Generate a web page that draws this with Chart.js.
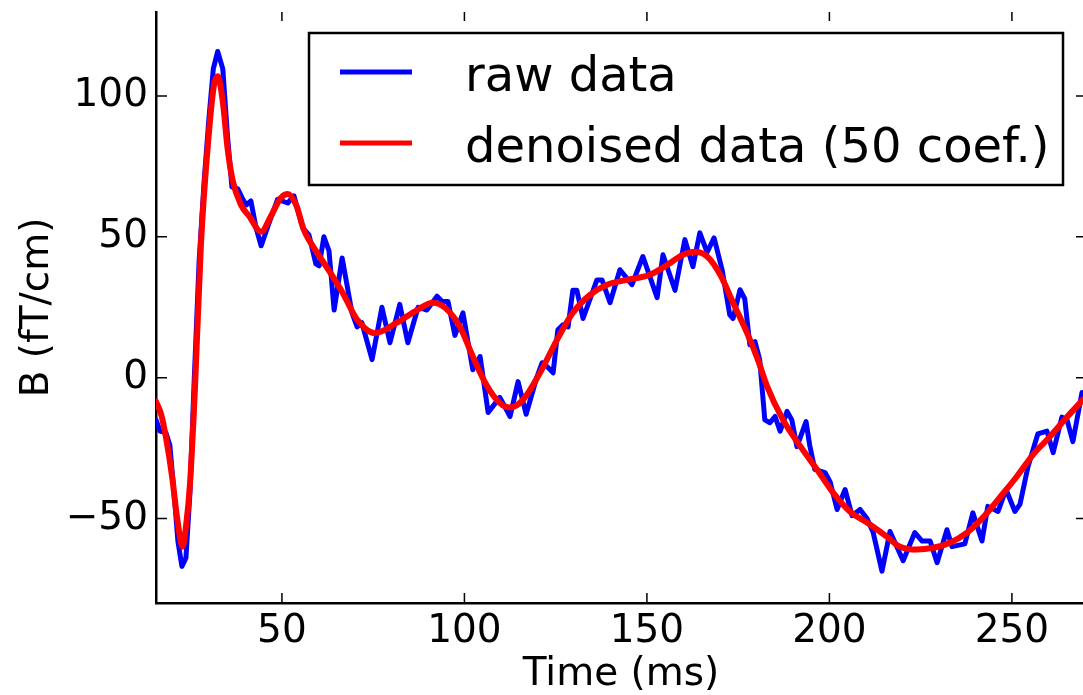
<!DOCTYPE html>
<html>
<head>
<meta charset="utf-8">
<script src="https://cdn.jsdelivr.net/npm/chart.js@4.4.1/dist/chart.umd.min.js"></script>
<style>
  html, body { margin: 0; padding: 0; background: #fff; overflow: hidden; }
  #wrap { position: relative; width: 1090px; height: 695px; }
</style>
</head>
<body>
<div id="wrap"><canvas id="meg"></canvas></div>
<script>
// values (time in ms, field in fT/cm)
var rawTime = [
  15.5, 16.6, 18.2, 19.3, 20.7, 21.5, 22.6, 23.7, 24.8, 25.9,
  27.3, 28.7, 30.0, 31.2, 32.4, 33.8, 35.1, 36.3, 37.9, 39.1,
  40.2, 41.5, 42.9, 44.3, 46.5, 48.8, 51.6, 53.3, 55.7, 57.4,
  59.3, 60.2, 61.5, 62.9, 64.3, 66.5, 69.2, 70.6, 71.9, 74.7,
  77.4, 79.6, 82.3, 84.5, 87.3, 89.7, 92.5, 93.9, 95.5, 97.4,
  99.6, 102.3, 104.3, 106.5, 109.7, 112.5, 114.7, 116.9, 119.9, 121.3,
  122.6, 124.3, 125.6, 127.0, 128.4, 129.7, 130.8, 132.5, 136.3, 137.7,
  139.9, 142.6, 145.9, 148.9, 152.8, 154.4, 157.7, 160.4, 162.6, 164.5,
  166.5, 168.4, 170.6, 172.7, 173.6, 175.5, 176.8, 178.2, 179.6, 180.9,
  182.3, 183.7, 185.1, 186.5, 188.4, 189.7, 191.1, 193.6, 194.6, 196.0,
  198.8, 200.2, 202.1, 204.3, 206.2, 208.4, 210.3, 212.0, 214.4, 216.6,
  220.2, 223.4, 225.4, 227.6, 229.5, 232.2, 233.6, 237.1, 239.3, 241.8,
  243.4, 246.2, 248.4, 250.8, 252.2, 254.4, 257.1, 259.6, 261.3, 263.7,
  265.1, 266.7, 269.2
];
var rawB = [
  -15, -19, -19.5, -24, -45, -58, -67, -64, -41, -3,
  41, 70, 92, 109.6, 115.8, 109.6, 85.5, 67.7, 67, 63.8,
  61.3, 62.7, 53.2, 46.8, 55, 63.3, 62, 64.5, 53.2, 50.7,
  40.4, 39.7, 50, 45, 24, 42.5, 23, 18, 19.5, 6.4,
  25, 12.4, 26, 12.4, 25, 24, 28.9, 27, 27, 15,
  23, 2.8, 7.5, -12.4, -7, -13.8, -1.4, -13, 0.4, 5.3,
  4, 1.7, 17, 18.8, 18, 31, 31, 21, 34.7, 34.7,
  26.6, 38.3, 33, 43, 28.4, 43.6, 31, 49, 39.4, 51.4,
  44.5, 49.6, 38.3, 22.3, 21, 31.2, 28, 11.7, 12.8, 6.4,
  -15, -16, -13.8, -19, -12, -15, -24.5, -15.6, -24, -32.6,
  -33.7, -37, -46.8, -39.7, -49, -46.8, -50, -55, -68.7, -54.6,
  -65, -55, -58, -58, -65.7, -54, -60, -59, -48, -58,
  -45.7, -47.5, -39.7, -47.5, -45, -31.6, -20, -19, -26.6, -14,
  -15, -22.7, -5.3
];
var denoisedTime = [
  15.5, 16.9, 18.2, 19.9, 21.3, 22.8, 23.7, 24.8, 26.2, 27.8,
  29.9, 31.4, 32.4, 33.8, 35.1, 36.5, 38.8, 41.0, 44.3, 47.0,
  49.7, 51.6, 53.9, 56.0, 59.3, 62.9, 66.7, 70.6, 75.5, 81.5,
  87.0, 91.4, 94.7, 98.8, 102.3, 106.2, 109.7, 112.5, 116.1, 120.7,
  125.4, 129.7, 134.4, 139.1, 144.5, 150.8, 155.5, 159.9, 163.2, 166.5,
  170.1, 173.6, 177.4, 180.4, 182.9, 187.3, 192.1, 196.6, 201.0, 205.6,
  210.3, 215.8, 219.3, 224.0, 228.4, 233.0, 237.7, 242.1, 246.7, 251.4,
  255.8, 260.4, 265.1, 269.5
];
var denoisedB = [
  -8.5, -13, -21, -35, -50, -60, -53, -38, -3, 47,
  85.5, 104, 107, 98, 81.5, 70, 61.3, 57.4, 51.8, 57.4,
  63.8, 65.2, 61.3, 52.5, 45, 38, 30, 20.6, 15.8, 19.5,
  24, 26.6, 24.8, 18, 7.5, -3, -9, -10.6, -7.8, 1.7,
  13.5, 23, 29.4, 33, 34.7, 36.5, 40, 43.6, 44.7, 43,
  36.5, 26.6, 16, 6.4, -3, -15, -24.5, -32.6, -40.8, -47.5,
  -51.4, -56.5, -60, -61, -60.4, -58.6, -55, -49.6, -42.5, -35,
  -27.3, -21, -14, -7.8
];
var xTicks = [50, 100, 150, 200, 250];
var yTicks = [-50, 0, 50, 100];

var FONT = "'DejaVu Sans', sans-serif";

function toPoints(xs, ys) {
  return xs.map(function (x, i) { return { x: x, y: ys[i] }; });
}

// inward tick marks on all four sides (matplotlib look)
var insideTicks = {
  id: "insideTicks",
  afterDatasetsDraw: function (chart) {
    var ctx = chart.ctx, a = chart.chartArea;
    var sx = chart.scales.x, sy = chart.scales.y;
    ctx.save();
    ctx.strokeStyle = "#000";
    ctx.lineWidth = 1.5;
    ctx.beginPath();
    xTicks.forEach(function (v) {
      var px = sx.getPixelForValue(v);
      ctx.moveTo(px, a.bottom); ctx.lineTo(px, a.bottom - 10);
      ctx.moveTo(px, a.top); ctx.lineTo(px, a.top + 9);
    });
    yTicks.forEach(function (v) {
      var py = sy.getPixelForValue(v);
      ctx.moveTo(a.left, py); ctx.lineTo(a.left + 11, py);
      ctx.moveTo(a.right, py); ctx.lineTo(a.right - 10, py);
    });
    ctx.stroke();
    ctx.restore();
  }
};

// framed legend in the upper part of the plot
var boxLegend = {
  id: "boxLegend",
  afterDraw: function (chart) {
    var ctx = chart.ctx;
    var left = 309, top = 33, right = 1063, bottom = 185;
    ctx.save();
    ctx.fillStyle = "#fff";
    ctx.fillRect(left, top, right - left, bottom - top);
    ctx.strokeStyle = "#000";
    ctx.lineWidth = 2.5;
    ctx.strokeRect(left, top, right - left, bottom - top);
    ctx.font = "48px " + FONT;
    ctx.textBaseline = "alphabetic";
    ctx.textAlign = "left";
    var rows = [72, 143];
    chart.data.datasets.forEach(function (ds, i) {
      var y = rows[i];
      ctx.strokeStyle = ds.borderColor;
      ctx.lineWidth = 5;
      ctx.beginPath();
      ctx.moveTo(340, y);
      ctx.lineTo(412, y);
      ctx.stroke();
      ctx.fillStyle = "#000";
      ctx.fillText(ds.label, 465, y + 18.5);
    });
    ctx.restore();
  }
};

new Chart(document.getElementById("meg"), {
  type: "line",
  data: {
    datasets: [
      {
        label: "raw data",
        data: toPoints(rawTime, rawB),
        borderColor: "#0000ff",
        borderWidth: 5,
        pointRadius: 0,
        tension: 0,
        borderJoinStyle: "round",
        borderCapStyle: "round",
        order: 2
      },
      {
        label: "denoised data (50 coef.)",
        data: toPoints(denoisedTime, denoisedB),
        borderColor: "#ff0000",
        borderWidth: 6,
        pointRadius: 0,
        cubicInterpolationMode: "monotone",
        borderJoinStyle: "round",
        borderCapStyle: "round",
        order: 1
      }
    ]
  },
  options: {
    responsive: true,
    maintainAspectRatio: false,
    animation: false,
    layout: { padding: { left: 0, top: 12, right: 4, bottom: 0 } },
    plugins: {
      legend: { display: false },
      tooltip: { enabled: false }
    },
    scales: {
      x: {
        type: "linear",
        min: 15.5,
        max: 270.3,
        grid: { display: false, drawTicks: false },
        border: { display: true, color: "#000", width: 2.5 },
        ticks: { color: "#000", padding: 5, font: { family: FONT, size: 39 } },
        afterBuildTicks: function (s) {
          s.ticks = xTicks.map(function (v) { return { value: v }; });
        },
        afterFit: function (s) {
          s.height = 92;
          s.paddingLeft = 0;
          s.paddingRight = 0;
        },
        title: {
          display: true,
          text: "Time (ms)",
          color: "#000",
          font: { family: FONT, size: 39 },
          padding: { top: 0, bottom: -3 }
        }
      },
      y: {
        type: "linear",
        min: -80,
        max: 129.8,
        grid: { display: false, drawTicks: false },
        border: { display: true, color: "#000", width: 2.5 },
        ticks: {
          color: "#000",
          padding: 8,
          font: { family: FONT, size: 39 },
          callback: function (v) { return v < 0 ? "\u2212" + Math.abs(v) : "" + v; }
        },
        afterBuildTicks: function (s) {
          s.ticks = yTicks.map(function (v) { return { value: v }; });
        },
        afterFit: function (s) {
          s.width = 156;
          s.paddingTop = 0;
          s.paddingBottom = 0;
        },
        title: {
          display: true,
          text: "B (fT/cm)",
          color: "#000",
          font: { family: FONT, size: 39 },
          padding: { top: 14, bottom: 0 }
        }
      }
    }
  },
  plugins: [insideTicks, boxLegend]
});
</script>
</body>
</html>
